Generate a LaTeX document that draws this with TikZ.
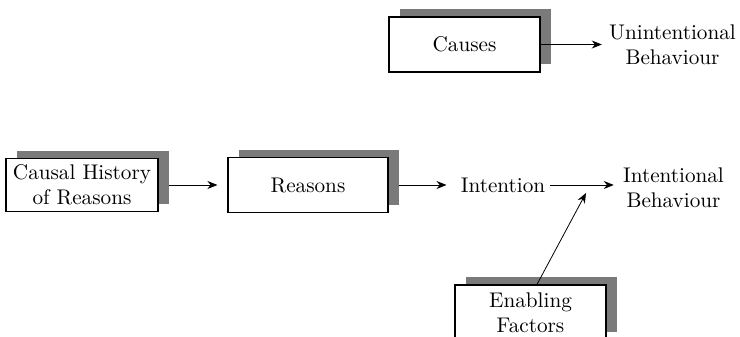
\documentclass[tikz,border=0pt]{standalone}
\usetikzlibrary{shadows,arrows.meta,calc}

\tikzset{
  boxnode/.style={draw,fill=white,semithick,minimum width=75.5pt,minimum height=27.5pt,
    align=center,inner sep=0pt,
    drop shadow={shadow xshift=5.25pt,shadow yshift=3.75pt,fill=black!52,opacity=1}},
  plainnode/.style={align=center,inner sep=2pt},
  arr/.style={-{Stealth[length=5pt,width=4pt]},thin}
}

\begin{document}
\begin{tikzpicture}[x=0.5pt,y=0.5pt,font=\fontsize{10.6}{12.5}\selectfont]
\useasboundingbox (0,0) rectangle (740,337);
% top row
\node[boxnode] (causes) at (464.5,292.5) {Causes};
\node[plainnode] (unintentional) at (672.5,292.5) {Unintentional\\Behaviour};
% main row
\node[boxnode,minimum width=76pt,minimum height=26.5pt] (history) at (82,152) {Causal History\\of Reasons};
\node[boxnode,minimum width=80pt] (reasons) at (308,152) {Reasons};
\node[plainnode] (intention) at (503,152) {Intention};
\node[plainnode] (intentional) at (673.5,149.5) {Intentional\\Behaviour};
% bottom
\node[boxnode] (enabling) at (530.5,24.5) {Enabling\\Factors};
\coordinate (meet) at (586,144);

\draw[arr] (causes.east) -- ([xshift=-1.5pt]causes.east -| unintentional.west);
\draw[arr] ([xshift=5pt]history.east) -- ([xshift=-5pt]reasons.west);
\draw[arr] ([xshift=5pt]reasons.east) -- ([xshift=-5pt]intention.west);
\draw[arr] (intention.east) -- ([xshift=-2.5pt]intention.east -| intentional.west);
\draw[arr] ([xshift=3.25pt]enabling.north) -- (meet);
\end{tikzpicture}
\end{document}
